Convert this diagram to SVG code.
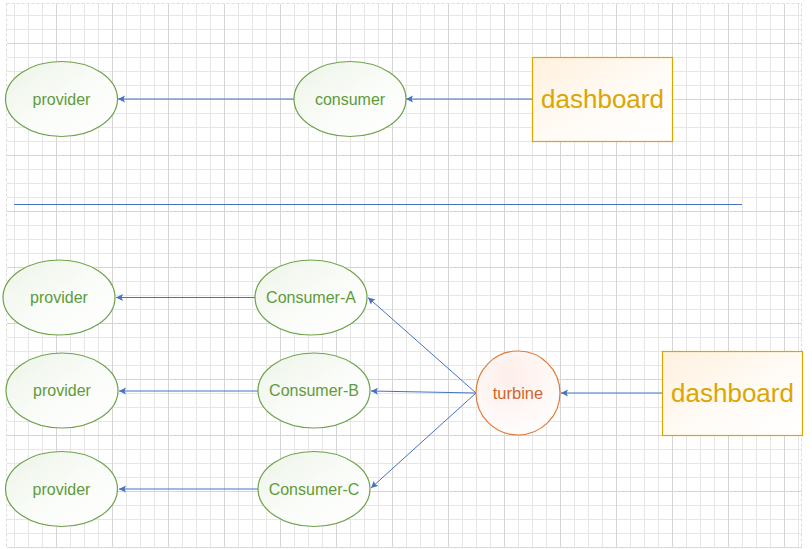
<svg xmlns="http://www.w3.org/2000/svg" width="812" height="549" viewBox="0 0 812 549">
<defs>
<pattern id="grid" patternUnits="userSpaceOnUse" x="0" y="-13" width="56" height="56">
<path d="M14.5,0V56M28.5,0V56M42.5,0V56M0,14.5H56M0,28.5H56M0,42.5H56" stroke="#e6e6e6" stroke-width="1" fill="none"/>
<path d="M0.5,0V56M0,0.5H56" stroke="#d5d5d5" stroke-width="1" fill="none"/>
</pattern>
<linearGradient id="gGreen" x1="0" y1="0" x2="1" y2="1">
<stop offset="0" stop-color="#edf4e8"/>
<stop offset="0.6" stop-color="#fbfdfa"/>
<stop offset="1" stop-color="#ffffff"/>
</linearGradient>
<linearGradient id="gGold" x1="0" y1="0" x2="1" y2="1">
<stop offset="0" stop-color="#fff1de"/>
<stop offset="0.6" stop-color="#fffcf8"/>
<stop offset="1" stop-color="#ffffff"/>
</linearGradient>
<radialGradient id="gOrange" cx="0.4" cy="0.3" r="0.8">
<stop offset="0" stop-color="#fdeeea"/>
<stop offset="1" stop-color="#ffffff"/>
</radialGradient>
<marker id="arr" markerUnits="userSpaceOnUse" markerWidth="8" markerHeight="8" refX="7" refY="3.5" orient="auto">
<path d="M0,0 L7,3.5 L0,7 L1.5,3.5 z" fill="#4472c4"/>
</marker>
<clipPath id="page"><rect x="7" y="4" width="795" height="544"/></clipPath>
</defs>
<style>
.ell{fill:url(#gGreen);stroke:#6fa14a;stroke-width:1.2}
.gt{font-family:"Liberation Sans",Arial,sans-serif;font-size:16px;fill:#5f9a3c;text-anchor:middle}
.box{fill:url(#gGold);stroke:#dca500;stroke-width:1.2}
.dt{font-family:"Liberation Sans",Arial,sans-serif;font-size:26px;fill:#dca500;text-anchor:middle}
.con line{stroke:#4472c4;stroke-width:1;marker-end:url(#arr)}
</style>
<rect width="812" height="549" fill="#ffffff"/>
<rect x="7" y="4" width="795" height="544" fill="url(#grid)" clip-path="url(#page)"/>
<rect x="6.5" y="3.5" width="795" height="544" fill="none" stroke="#dcdcdc" stroke-width="1" stroke-dasharray="3,2"/>

<line x1="14" y1="204.5" x2="742" y2="204.5" stroke="#4472c4" stroke-width="1.2"/>

<g class="con" id="connectors">
<line x1="294" y1="99" x2="118" y2="99"/>
<line x1="532" y1="99" x2="406" y2="99"/>
<line x1="255" y1="297.5" x2="116" y2="297.5"/>
<line x1="258" y1="391" x2="119" y2="391"/>
<line x1="258" y1="489" x2="119" y2="489"/>
<line x1="476" y1="393" x2="368" y2="297.5"/>
<line x1="476" y1="393" x2="371" y2="391"/>
<line x1="476" y1="393" x2="371" y2="488"/>
<line x1="662" y1="393" x2="561" y2="393"/>
</g>

<g id="provider-top"><ellipse class="ell" cx="61.5" cy="99" rx="56" ry="37.5"/><text class="gt" x="61.5" y="104.5">provider</text></g>
<g id="consumer-top"><ellipse class="ell" cx="350" cy="99" rx="56" ry="37.5"/><text class="gt" x="350" y="104.5">consumer</text></g>
<g id="dashboard-top"><rect class="box" x="532.5" y="57.5" width="140" height="84"/><text class="dt" x="602.5" y="108">dashboard</text></g>

<g id="provider-a"><ellipse class="ell" cx="59" cy="297.5" rx="56" ry="37.5"/><text class="gt" x="59" y="303">provider</text></g>
<g id="consumer-a"><ellipse class="ell" cx="311" cy="297.5" rx="56" ry="37.5"/><text class="gt" x="311" y="303">Consumer-A</text></g>
<g id="provider-b"><ellipse class="ell" cx="62" cy="390.5" rx="56" ry="37.5"/><text class="gt" x="62" y="396">provider</text></g>
<g id="consumer-b"><ellipse class="ell" cx="314" cy="390.5" rx="56" ry="37.5"/><text class="gt" x="314" y="396">Consumer-B</text></g>
<g id="provider-c"><ellipse class="ell" cx="61.5" cy="489" rx="56" ry="37.5"/><text class="gt" x="61.5" y="494.5">provider</text></g>
<g id="consumer-c"><ellipse class="ell" cx="314" cy="489" rx="56" ry="37.5"/><text class="gt" x="314" y="494.5">Consumer-C</text></g>

<g id="turbine"><circle cx="518" cy="393" r="42" fill="url(#gOrange)" stroke="#e07b39" stroke-width="1.2"/><text x="518" y="398.5" font-family="Liberation Sans,Arial,sans-serif" font-size="16.5" fill="#cc672c" text-anchor="middle">turbine</text></g>
<g id="dashboard-bottom"><rect class="box" x="662.5" y="351.5" width="140" height="84"/><text class="dt" x="732.5" y="402">dashboard</text></g>
</svg>
